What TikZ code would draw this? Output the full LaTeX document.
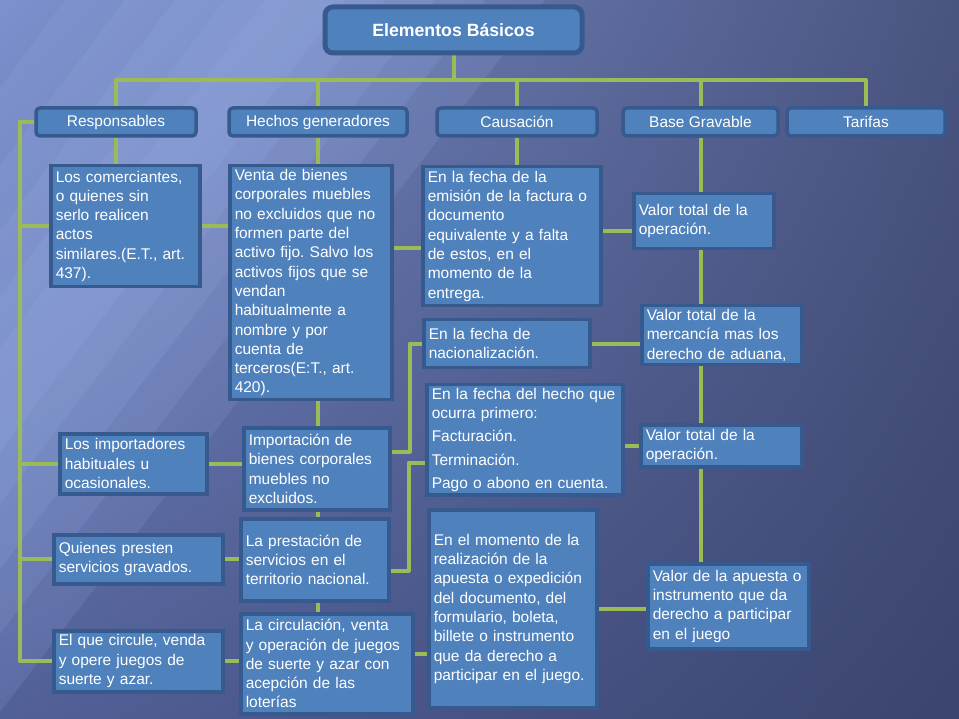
\documentclass[tikz,border=0pt]{standalone}
\usepackage{fontspec}
\setmainfont{Liberation Sans}
\usepackage{tikz}
\usetikzlibrary{backgrounds,shadings}
\definecolor{boxblue}{RGB}{79,129,189}
\definecolor{boxedge}{RGB}{54,90,142}
\definecolor{linkgreen}{RGB}{155,187,89}
\definecolor{bgul}{RGB}{124,145,206}
\definecolor{bgur}{RGB}{74,84,128}
\definecolor{bgll}{RGB}{82,96,152}
\definecolor{bglr}{RGB}{59,68,111}
\definecolor{streak}{RGB}{160,182,236}

\begin{document}
\begin{tikzpicture}[x=1pt, y=-1pt,
  box/.style={fill=boxblue, draw=boxedge, line width=3.5pt, text=white,
    font=\fontsize{15.5}{19.3}\selectfont\frenchspacing, inner xsep=5pt, inner ysep=3pt,
    align=left, anchor=north west},
  head/.style={box, rounded corners=4pt, align=center, anchor=center},
  link/.style={draw=linkgreen, line width=4pt, line join=round}]
  \useasboundingbox (0,0) rectangle (959,719);

  % title and headers
  \node[head, font=\bfseries\fontsize{17.7}{20}\selectfont, rounded corners=8pt, line width=5pt,
    minimum width=257pt, minimum height=46pt] (title) at (453.5,30) {Elementos Básicos};
  \node[head, minimum width=160pt, minimum height=28pt] (resp) at (116,122) {Responsables};
  \node[head, minimum width=178pt, minimum height=28pt] (hech) at (318,122) {Hechos generadores};
  \node[head, minimum width=160pt, minimum height=28pt] (caus) at (517,122) {Causación};
  \node[head, minimum width=155pt, minimum height=28pt] (base) at (700.5,122) {Base Gravable};
  \node[head, minimum width=158pt, minimum height=28pt] (tar) at (866,122) {Tarifas};

  % responsables
  \node[box, text width=139pt, minimum height=121pt] (comer) at (49,164)
    {Los comerciantes,\\ o quienes sin\\ serlo realicen\\ actos\\ similares.(E.T., art.\\ 437).};
  \node[box, text width=137pt, minimum height=60pt] (impo) at (58,432)
    {Los importadores\\ habituales u\\ ocasionales.};
  \node[box, text width=159pt, minimum height=49pt] (quien) at (52,533)
    {Quienes presten\\ servicios gravados.};
  \node[box, text width=159pt, minimum height=61pt] (elque) at (52,629)
    {El que circule, venda\\ y opere juegos de\\ suerte y azar.};

  % hechos generadores
  \node[box, text width=152pt, minimum height=234pt] (venta) at (228,164)
    {Venta de bienes\\ corporales muebles\\ no excluidos que no\\ formen parte del\\ activo fijo. Salvo los\\
     activos fijos que se\\ vendan\\ habitualmente a\\ nombre y por\\ cuenta de\\ terceros(E:T., art.\\ 420).};
  \node[box, text width=136pt, minimum height=82pt] (imp) at (242,426)
    {Importación de\\ bienes corporales\\ muebles no\\ excluidos.};
  \node[box, text width=138pt, minimum height=82pt] (prest) at (239,517)
    {La prestación de\\ servicios en el\\ territorio nacional.};
  \node[box, text width=162pt, minimum height=100pt] (circ) at (239,612)
    {La circulación, venta\\ y operación de juegos\\ de suerte y azar con\\ acepción de las\\ loterías};

  % causacion
  \node[box, text width=168pt, minimum height=139pt] (emis) at (421,165)
    {En la fecha de la\\ emisión de la factura o\\ documento\\ equivalente y a falta\\ de estos, en el\\ momento de la\\ entrega.};
  \node[box, text width=156pt, minimum height=48pt] (nac) at (422,318)
    {En la fecha de\\ nacionalización.};
  \node[box, text width=186pt, minimum height=110pt] (hecho) at (425,383)
    {En la fecha del hecho que\\ ocurra primero:\\[4pt] Facturación.\\[4pt] Terminación.\\[4pt] Pago o abono en cuenta.};
  \node[box, text width=158pt, minimum height=198pt] (mom) at (427,508)
    {En el momento de la\\ realización de la\\ apuesta o expedición\\ del documento, del\\ formulario, boleta,\\
     billete o instrumento\\ que da derecho a\\ participar en el juego.};

  % base gravable
  \node[box, text width=130pt, minimum height=55pt] (val1) at (632,192)
    {Valor total de la\\ operación.};
  \node[box, text width=150pt, minimum height=59pt] (val2) at (640,304)
    {Valor total de la\\ mercancía mas los\\ derecho de aduana,};
  \node[box, text width=151pt, minimum height=42pt] (val3) at (639,423)
    {Valor total de la\\ operación.};
  \node[box, text width=151pt, minimum height=85pt] (val4) at (646,562)
    {Valor de la apuesta o\\ instrumento que da\\ derecho a participar\\ en el juego};

  \begin{scope}[on background layer]
    % backdrop
    \shade[upper left=bgul, upper right=bgur, lower left=bgll, lower right=bglr] (0,0) rectangle (959,719);
    \foreach \w in {40,80,130,180,240}
      \fill[streak, opacity=0.14] (305-\w,0) -- (305+\w,0) -- (0,400+1.3*\w) -- (0,400-1.3*\w) -- cycle;

    % top level
    \coordinate (bus) at (0,80);
    \draw[link] (title.south) -- (title.south |- bus);
    \draw[link] (resp.north) -- (resp.north |- bus) -- (tar.north |- bus) -- (tar.north);
    \foreach \h in {hech,caus,base}
      \draw[link] (\h.north) -- (\h.north |- bus);

    % responsables
    \coordinate (rbus) at (20,0);
    \draw[link] (resp.south) -- (resp.south |- comer.north);
    \foreach \n in {comer,impo,quien,elque}
      \draw[link] (resp.west) -| (rbus |- \n.west) -- (\n.west);

    % hechos generadores
    \draw[link] (hech.south) -- (hech.south |- venta.north);
    \foreach \a/\b in {venta/imp,imp/prest,prest/circ}
      \draw[link] (\a.south -| hech.south) -- (\b.north -| hech.south);
    \draw[link] (comer.east) -- (comer.east -| venta.west);
    \draw[link] (impo.east) -- (impo.east -| imp.west);
    \draw[link] (quien.east) -- (quien.east -| prest.west);
    \draw[link] (elque.east) -- (elque.east -| circ.west);

    % causacion
    \draw[link] (caus.south) -- (caus.south |- emis.north);
    \draw[link] ([yshift=35pt]venta.east) -- ([yshift=35pt]venta.east -| emis.west);
    \draw[link] ([yshift=17pt]imp.east) -- ++(18,0) |- (nac.west);
    \draw[link] ([yshift=-11pt]prest.east) -- ++(18,0) |- ([yshift=-23pt]hecho.west);
    \draw[link] ([yshift=10pt]circ.east) -- ([yshift=10pt]circ.east -| mom.west);

    % base gravable
    \draw[link] (base.south) -- (base.south |- val1.north);
    \foreach \a/\b in {val1/val2,val2/val3,val3/val4}
      \draw[link] (\a.south -| base.south) -- (\b.north -| base.south);
    \draw[link] ([yshift=5pt]emis.east) -- ([yshift=5pt]emis.east -| val1.west);
    \draw[link] (nac.east) -- (nac.east -| val2.west);
    \draw[link] (val3.west -| hecho.east) -- (val3.west);
    \draw[link] (mom.east) -- (mom.east -| val4.west);
  \end{scope}
\end{tikzpicture}
\end{document}
